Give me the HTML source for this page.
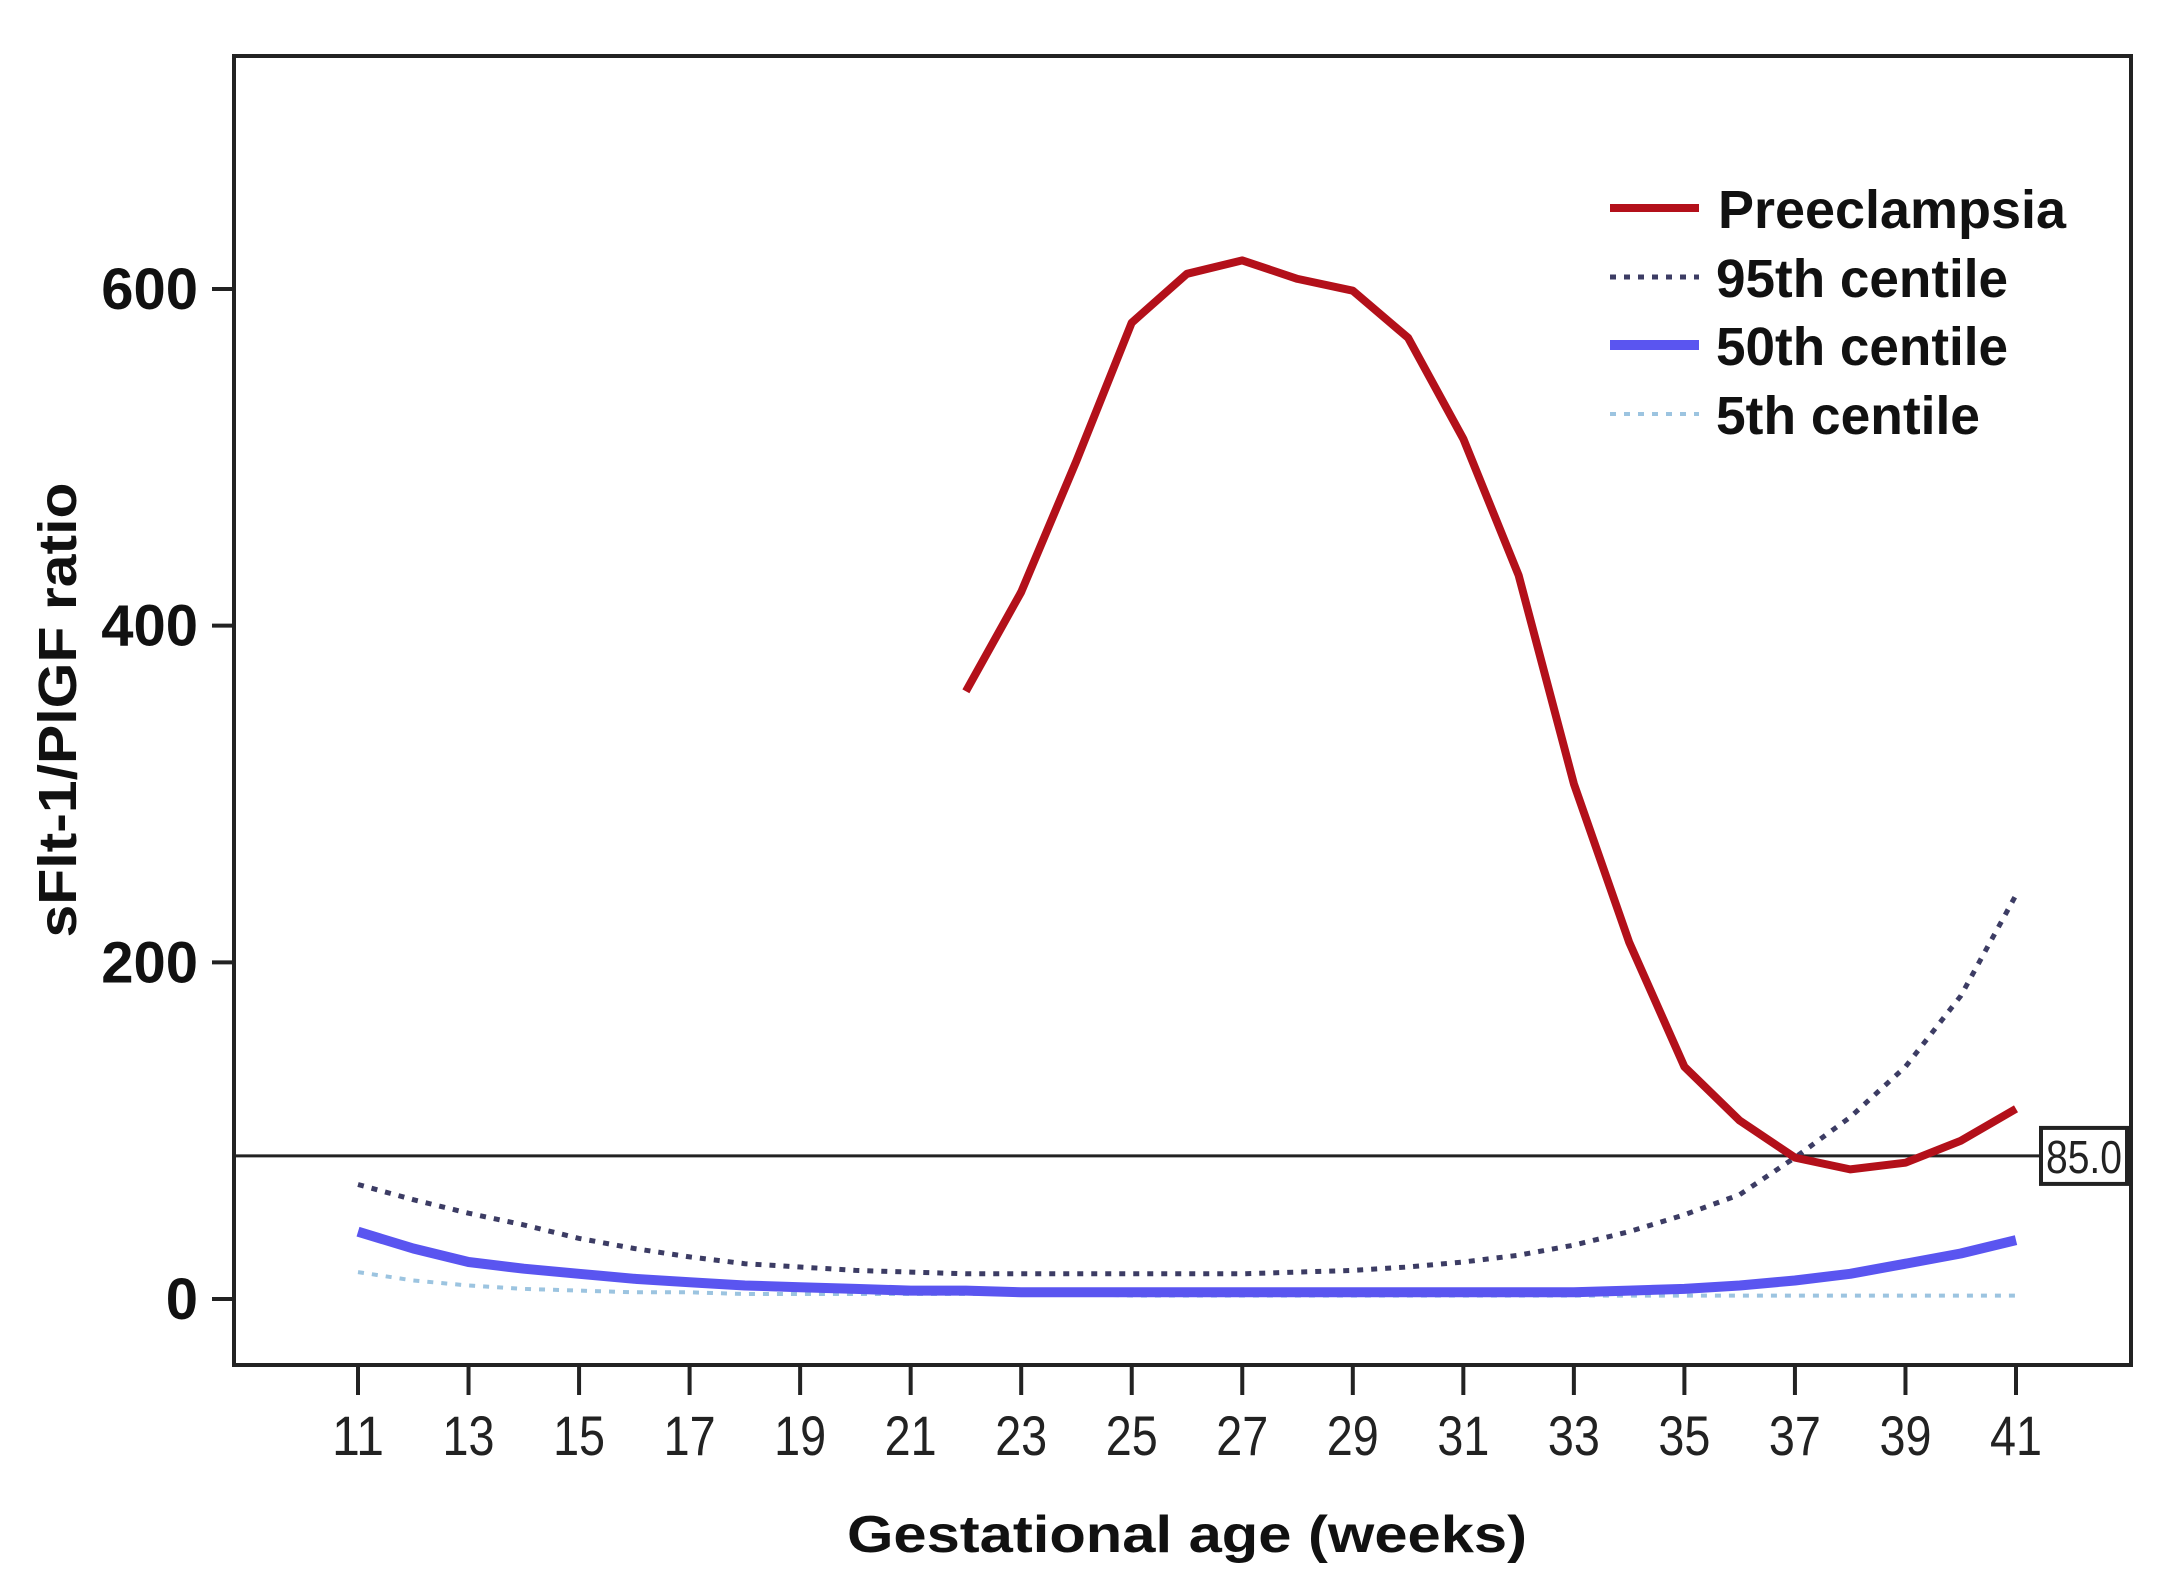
<!DOCTYPE html>
<html><head><meta charset="utf-8">
<style>
html,body{margin:0;padding:0;background:#fff;}
svg{display:block;}
text{font-family:"Liberation Sans",Arial,sans-serif;}
</style></head>
<body>
<svg id="chart" width="2169" height="1580" viewBox="0 0 2169 1580" xmlns="http://www.w3.org/2000/svg">
  <rect x="234" y="56" width="1897" height="1309" fill="#fff" stroke="#222" stroke-width="4"/>
  <g id="yticks"></g>
  <g id="xticks"></g>
  <g id="series"></g>
  <text transform="translate(76,710) rotate(-90)" text-anchor="middle" font-size="54" font-weight="bold" fill="#111" textLength="455" lengthAdjust="spacingAndGlyphs">sFlt-1/PlGF ratio</text>
  <text x="1187" y="1552" text-anchor="middle" font-size="52" font-weight="bold" fill="#111" textLength="680" lengthAdjust="spacingAndGlyphs">Gestational age (weeks)</text>
  <g>
    <g>
      <line x1="1610" y1="208" x2="1699" y2="208" stroke="#b3101a" stroke-width="8"/>
      <text x="1718" y="228" font-size="54" font-weight="bold" fill="#111" textLength="348" lengthAdjust="spacingAndGlyphs">Preeclampsia</text>
    </g>
    <g>
      <line x1="1610" y1="277" x2="1699" y2="277" stroke="#3c3c64" stroke-width="5" stroke-dasharray="6,8"/>
      <text x="1716" y="297" font-size="54" font-weight="bold" fill="#111" textLength="292" lengthAdjust="spacingAndGlyphs">95th centile</text>
    </g>
    <g>
      <line x1="1610" y1="345" x2="1699" y2="345" stroke="#5a55f0" stroke-width="10"/>
      <text x="1716" y="365" font-size="54" font-weight="bold" fill="#111" textLength="292" lengthAdjust="spacingAndGlyphs">50th centile</text>
    </g>
    <g>
      <line x1="1610" y1="414" x2="1699" y2="414" stroke="#9cc4e0" stroke-width="4" stroke-dasharray="6,8"/>
      <text x="1716" y="434" font-size="54" font-weight="bold" fill="#111" textLength="264" lengthAdjust="spacingAndGlyphs">5th centile</text>
    </g>
  </g>
</svg>
<script>
const yTickValues = [0, 200, 400, 600];
const xTickWeeks = [11,13,15,17,19,21,23,25,27,29,31,33,35,37,39,41];
const preWeeks = [22,23,24,25,26,27,28,29,30,31,32,33,34,35,36,37,38,39,40,41];
const preValues = [361,420,498,580,609,617,606,599,571,511,430,306,212,138,106,84,77,81,94,113];
const centWeeks = [11,12,13,14,15,16,17,18,19,20,21,22,23,24,25,26,27,28,29,30,31,32,33,34,35,36,37,38,39,40,41];
const p95Values = [68,59,51,44,36,30,25,21,19,17,16,15,15,15,15,15,15,16,17,19,22,26,32,40,50,62,84,108,138,180,240];
const p50Values = [40,30,22,18,15,12,10,8,7,6,5,5,4,4,4,4,4,4,4,4,4,4,4,5,6,8,11,15,21,27,35];
const p5Values  = [16,11,8,6,5,4,4,3,3,3,3,3,3,3,2,2,2,2,2,2,2,2,2,2,2,2,2,2,2,2,2];
const refValue = 85;

const NS = "http://www.w3.org/2000/svg";
function xs(w){ return 358 + (w - 11) * (2016 - 358) / 30; }
function ys(v){ return 1299 - v * (1299 - 289) / 600; }
function mk(tag, attrs, parent){
  const e = document.createElementNS(NS, tag);
  for (const k in attrs) e.setAttribute(k, attrs[k]);
  parent.appendChild(e);
  return e;
}
const yg = document.getElementById('yticks');
yTickValues.forEach(v => {
  const t = mk('line', {x1:212, x2:234, y1:ys(v), y2:ys(v), stroke:'#222', 'stroke-width':4}, yg);
  
  
  const l = mk('text', {x:198, y:ys(v)+20, 'text-anchor':'end', 'font-size':58, 'font-weight':'bold', fill:'#111'}, yg);
  
  
  l.textContent = v;
});
const xg = document.getElementById('xticks');
xTickWeeks.forEach(w => {
  const t = mk('line', {x1:xs(w), x2:xs(w), y1:1365, y2:1395, stroke:'#222', 'stroke-width':4}, xg);
  
  
  const l = mk('text', {x:xs(w), y:1455, 'text-anchor':'middle', 'font-size':56, fill:'#222', textLength:52, lengthAdjust:'spacingAndGlyphs'}, xg);
  
  
  l.textContent = w;
});
const sg = document.getElementById('series');
function pts(ws, vs){ return ws.map((w,i) => xs(w).toFixed(1) + ',' + ys(vs[i]).toFixed(1)).join(' '); }

const rl = mk('line', {x1:234, x2:2040, y1:ys(refValue), y2:ys(refValue), stroke:'#222', 'stroke-width':3}, sg);



const l5 = mk('polyline', {points:pts(centWeeks, p5Values), fill:'none', stroke:'#9cc4e0', 'stroke-width':4, 'stroke-dasharray':'6,8'}, sg);


const l50 = mk('polyline', {points:pts(centWeeks, p50Values), fill:'none', stroke:'#5a55f0', 'stroke-width':10, 'stroke-linejoin':'round'}, sg);


const l95 = mk('polyline', {points:pts(centWeeks, p95Values), fill:'none', stroke:'#3c3c64', 'stroke-width':5, 'stroke-dasharray':'6,8'}, sg);


const lp = mk('polyline', {points:pts(preWeeks, preValues), fill:'none', stroke:'#b3101a', 'stroke-width':8, 'stroke-linejoin':'round'}, sg);



const rb = mk('rect', {x:2041, y:ys(refValue)-28, width:86, height:56, fill:'#fff', stroke:'#222', 'stroke-width':4}, sg);


const rt = mk('text', {x:2084, y:ys(refValue)+17, 'text-anchor':'middle', 'font-size':46, fill:'#222', textLength:76, lengthAdjust:'spacingAndGlyphs'}, sg);


rt.textContent = refValue.toFixed(1);
</script>
</body></html>
